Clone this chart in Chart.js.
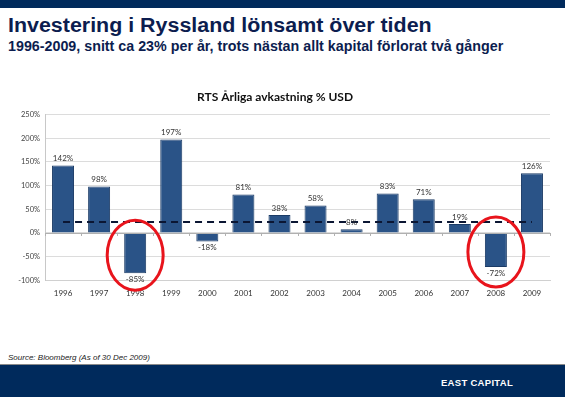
<!DOCTYPE html>
<html><head><meta charset="utf-8">
<script src="https://cdn.jsdelivr.net/npm/chart.js@4"></script>
<style>
html,body{margin:0;padding:0;background:#fff;width:565px;height:397px;overflow:hidden;position:relative;font-family:"Liberation Sans",Arial,sans-serif}
#topbar{position:absolute;left:0;top:0;width:565px;height:8px;background:#002a5c}
#title{position:absolute;left:8px;top:14px;font-weight:bold;font-size:20px;color:#0c1d4f;white-space:nowrap;transform-origin:0 0}
#sub{position:absolute;left:8px;top:37px;font-weight:bold;font-size:15px;color:#0c1d4f;white-space:nowrap;transform-origin:0 0}
#wrap{position:absolute;left:0;top:85px;width:565px;height:221px}
#src{position:absolute;left:8px;top:353px;font-style:italic;font-size:8px;color:#222}
#rule{position:absolute;left:0;top:364px;width:565px;height:1px;background:#8a8a8a}
#foot{position:absolute;left:0;top:365px;width:565px;height:32px;background:#002a5c}
#brand{position:absolute;right:52px;top:377px;color:#fff;font-weight:bold;font-size:9.5px;letter-spacing:0.3px}
</style></head><body>
<div id="topbar"></div>
<div id="title">Investering i Ryssland lönsamt över tiden</div>
<div id="sub">1996-2009, snitt ca 23% per år, trots nästan allt kapital förlorat två gånger</div>
<div id="wrap"><canvas id="c"></canvas></div>
<div id="src">Source: Bloomberg (As of 30 Dec 2009)</div>
<div id="rule"></div>
<div id="foot"></div>
<div id="brand">EAST CAPITAL</div>
<script>
const years = ['1996','1997','1998','1999','2000','2001','2002','2003','2004','2005','2006','2007','2008','2009'];
const returns = [142, 98, -85, 197, -18, 81, 38, 58, 8, 83, 71, 19, -72, 126];
const averageReturn = 23;
const highlightYears = ['1998','2008'];
const yTicks = [-100, -50, 0, 50, 100, 150, 200, 250];

function fitWidth(id, w){const el=document.getElementById(id);const s=w/el.scrollWidth;el.style.transform='scaleX('+s+')';}
fitWidth('title', 424);
fitWidth('sub', 495);

const labelPlugin = {
  id:'vals',
  afterDatasetsDraw(chart){
    const ctx = chart.ctx;
    const meta = chart.getDatasetMeta(1);
    ctx.save();
    ctx.font = '8px Lato, "Open Sans", sans-serif';
    ctx.fillStyle = '#333';
    ctx.textAlign = 'center';
    meta.data.forEach((bar,i)=>{
      const v = returns[i];
      if (v >= 0){ ctx.textBaseline='bottom'; ctx.fillText(v+'%', bar.x, bar.y-3); }
      else { ctx.textBaseline='top'; ctx.fillText(v+'%', bar.x, bar.y+2); }
    });
    const xs = chart.scales.x, ys = chart.scales.y;
    const y0 = ys.getPixelForValue(0);
    ctx.strokeStyle = '#b0b0b0'; ctx.lineWidth = 1;
    for (let i=0;i<=years.length;i++){
      const x = Math.round(xs.left + i*(xs.right-xs.left)/years.length)+0.5;
      ctx.beginPath(); ctx.moveTo(x,y0); ctx.lineTo(x,y0+3); ctx.stroke();
    }
    ctx.beginPath(); ctx.moveTo(xs.left,Math.round(y0)+0.5); ctx.lineTo(xs.right,Math.round(y0)+0.5); ctx.stroke();
    ctx.restore();
  },
  afterDraw(chart){
    const ctx = chart.ctx, xs = chart.scales.x, ys = chart.scales.y;
    ctx.save();
    ctx.strokeStyle = '#e8141c'; ctx.lineWidth = 3;
    highlightYears.forEach(yr=>{
      const i = years.indexOf(yr);
      const cx = xs.getPixelForValue(i);
      const cy = ys.getPixelForValue(returns[i]/2) + 2;
      ctx.beginPath(); ctx.ellipse(cx, cy, 28, 35, 0, 0, Math.PI*2); ctx.stroke();
    });
    ctx.restore();
  }
};

new Chart(document.getElementById('c'), {
  data:{
    labels: years,
    datasets:[
      {type:'line', data: years.map(()=>averageReturn), borderColor:'#0b1633', borderWidth:2, borderDash:[7,5], pointRadius:0, fill:false, order:0},
      {type:'bar', data: returns, backgroundColor:'#2a5387', borderColor:'#1b3b66', borderWidth:1, categoryPercentage:1, barPercentage:0.61, order:1}
    ]
  },
  options:{
    responsive:true, maintainAspectRatio:false, animation:false,
    layout:{padding:{left:0,right:15,top:5,bottom:0}},
    plugins:{
      legend:{display:false}, tooltip:{enabled:false},
      title:{display:true, text:'RTS Årliga avkastning % USD', font:{family:'Lato, "Open Sans", sans-serif', size:12, weight:'bold'}, color:'#111', padding:{top:0,bottom:10}}
    },
    scales:{
      x:{offset:true, grid:{display:false, drawTicks:false}, border:{color:'#d0d0d0'}, ticks:{font:{family:'Lato, "Open Sans", sans-serif', size:8}, color:'#333', padding:8, maxRotation:0}},
      y:{min:-100, max:250, afterBuildTicks(s){s.ticks = yTicks.map(v=>({value:v}));}, afterFit(s){s.width=45;},
         grid:{color:'#dcdcdc', drawTicks:false}, border:{color:'#c8c8c8'},
         ticks:{font:{family:'Lato, "Open Sans", sans-serif', size:7.5}, color:'#444', padding:5, callback:v=>v+'%'}}
    }
  },
  plugins:[labelPlugin]
});
</script>
</body></html>
